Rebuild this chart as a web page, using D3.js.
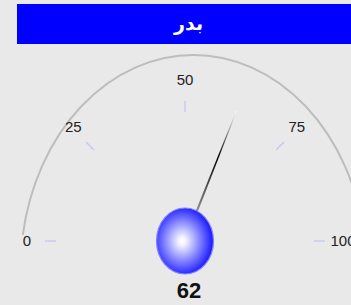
<!DOCTYPE html>
<html>
<head>
<meta charset="utf-8">
<script src="https://cdn.jsdelivr.net/npm/d3@7"></script>
<style>
  body { margin: 0; background: #e9e9e9; }
  svg { display: block; }
</style>
</head>
<body>
<div id="chart"></div>
<script>
// gauge data
const title = 'بدر';
const value = 62;
const gaugeDomain = [0, 100];
const tickValues = [0, 25, 50, 75, 100];
const tickLabels = ['0', '25', '50', '75', '100'];

const width = 351, height = 305;
const cx = 185, cy = 241; // needle pivot

const svg = d3.select('#chart')
    .append('svg')
    .attr('width', width)
    .attr('height', height);

const defs = svg.append('defs');

// value -> angle in degrees (0 = straight up)
const angle = d3.scaleLinear().domain(gaugeDomain).range([-90, 90]);
const rad = d => d * Math.PI / 180;

// title bar
svg.append('rect')
    .attr('x', 17).attr('y', 4)
    .attr('width', 343).attr('height', 40)
    .attr('fill', '#0000ff');

svg.append('text')
    .attr('x', 188.5).attr('y', 23)
    .attr('dy', '0.35em')
    .attr('text-anchor', 'middle')
    .attr('fill', '#fff')
    .style('font', 'bold 19px "DejaVu Sans", sans-serif')
    .text(title);

// outer arc (drawn stretched, like the original)
const p = d3.path();
p.arc(0, 0, 100, rad(-170.6), rad(-9.4), false);
svg.append('path')
    .attr('d', p.toString())
    .attr('transform', 'translate(193.5,270) scale(1.73,2.15)')
    .attr('fill', 'none')
    .attr('stroke', '#bdbdbd')
    .attr('stroke-width', 2)
    .attr('vector-effect', 'non-scaling-stroke');

// tick marks
svg.append('g')
    .selectAll('line')
    .data(tickValues)
    .enter()
    .append('line')
    .attr('x1', d => cx + 129 * Math.sin(rad(angle(d))))
    .attr('y1', d => cy - 129 * Math.cos(rad(angle(d))))
    .attr('x2', d => cx + 140 * Math.sin(rad(angle(d))))
    .attr('y2', d => cy - 140 * Math.cos(rad(angle(d))))
    .attr('stroke', '#c4c4f4')
    .attr('stroke-width', 1.2);

// tick labels
svg.append('g')
    .selectAll('text')
    .data(tickValues)
    .enter()
    .append('text')
    .attr('x', d => cx + 158 * Math.sin(rad(angle(d))))
    .attr('y', d => cy - 158 * 1.02 * Math.cos(rad(angle(d))))
    .attr('dy', '0.35em')
    .attr('text-anchor', 'middle')
    .attr('fill', '#222')
    .style('font', '15px "Liberation Sans", Arial, sans-serif')
    .text((d, i) => tickLabels[i]);

// needle
const needleGrad = defs.append('linearGradient')
    .attr('id', 'needleGrad')
    .attr('gradientUnits', 'userSpaceOnUse')
    .attr('x1', 0).attr('y1', 0).attr('x2', 0).attr('y2', -140);
needleGrad.append('stop').attr('offset', 0.25).attr('stop-color', '#8a8a8a');
needleGrad.append('stop').attr('offset', 0.65).attr('stop-color', '#000');
needleGrad.append('stop').attr('offset', 1).attr('stop-color', '#fff');

svg.append('path')
    .attr('d', 'M-1.3,0 L1.3,0 L0.4,-140 L-0.4,-140 Z')
    .attr('transform', `translate(${cx},${cy}) rotate(${angle(value)})`)
    .attr('fill', 'url(#needleGrad)');

// bubble
const bubbleGrad = defs.append('radialGradient')
    .attr('id', 'bubbleGrad')
    .attr('cx', '45%').attr('cy', '50%').attr('r', '55%');
bubbleGrad.append('stop').attr('offset', 0).attr('stop-color', '#ffffff');
bubbleGrad.append('stop').attr('offset', 0.12).attr('stop-color', '#f2f2ff');
bubbleGrad.append('stop').attr('offset', 1).attr('stop-color', '#1414ff');

svg.append('ellipse')
    .attr('cx', cx).attr('cy', cy)
    .attr('rx', 28.5).attr('ry', 33)
    .attr('fill', 'url(#bubbleGrad)')
    .attr('stroke', '#8080ff')
    .attr('stroke-width', 1.2);

// value label
svg.append('text')
    .attr('x', cx + 4).attr('y', 298)
    .attr('text-anchor', 'middle')
    .attr('fill', '#111')
    .style('font', 'bold 22px "Liberation Sans", Arial, sans-serif')
    .text(value);
</script>
</body>
</html>
